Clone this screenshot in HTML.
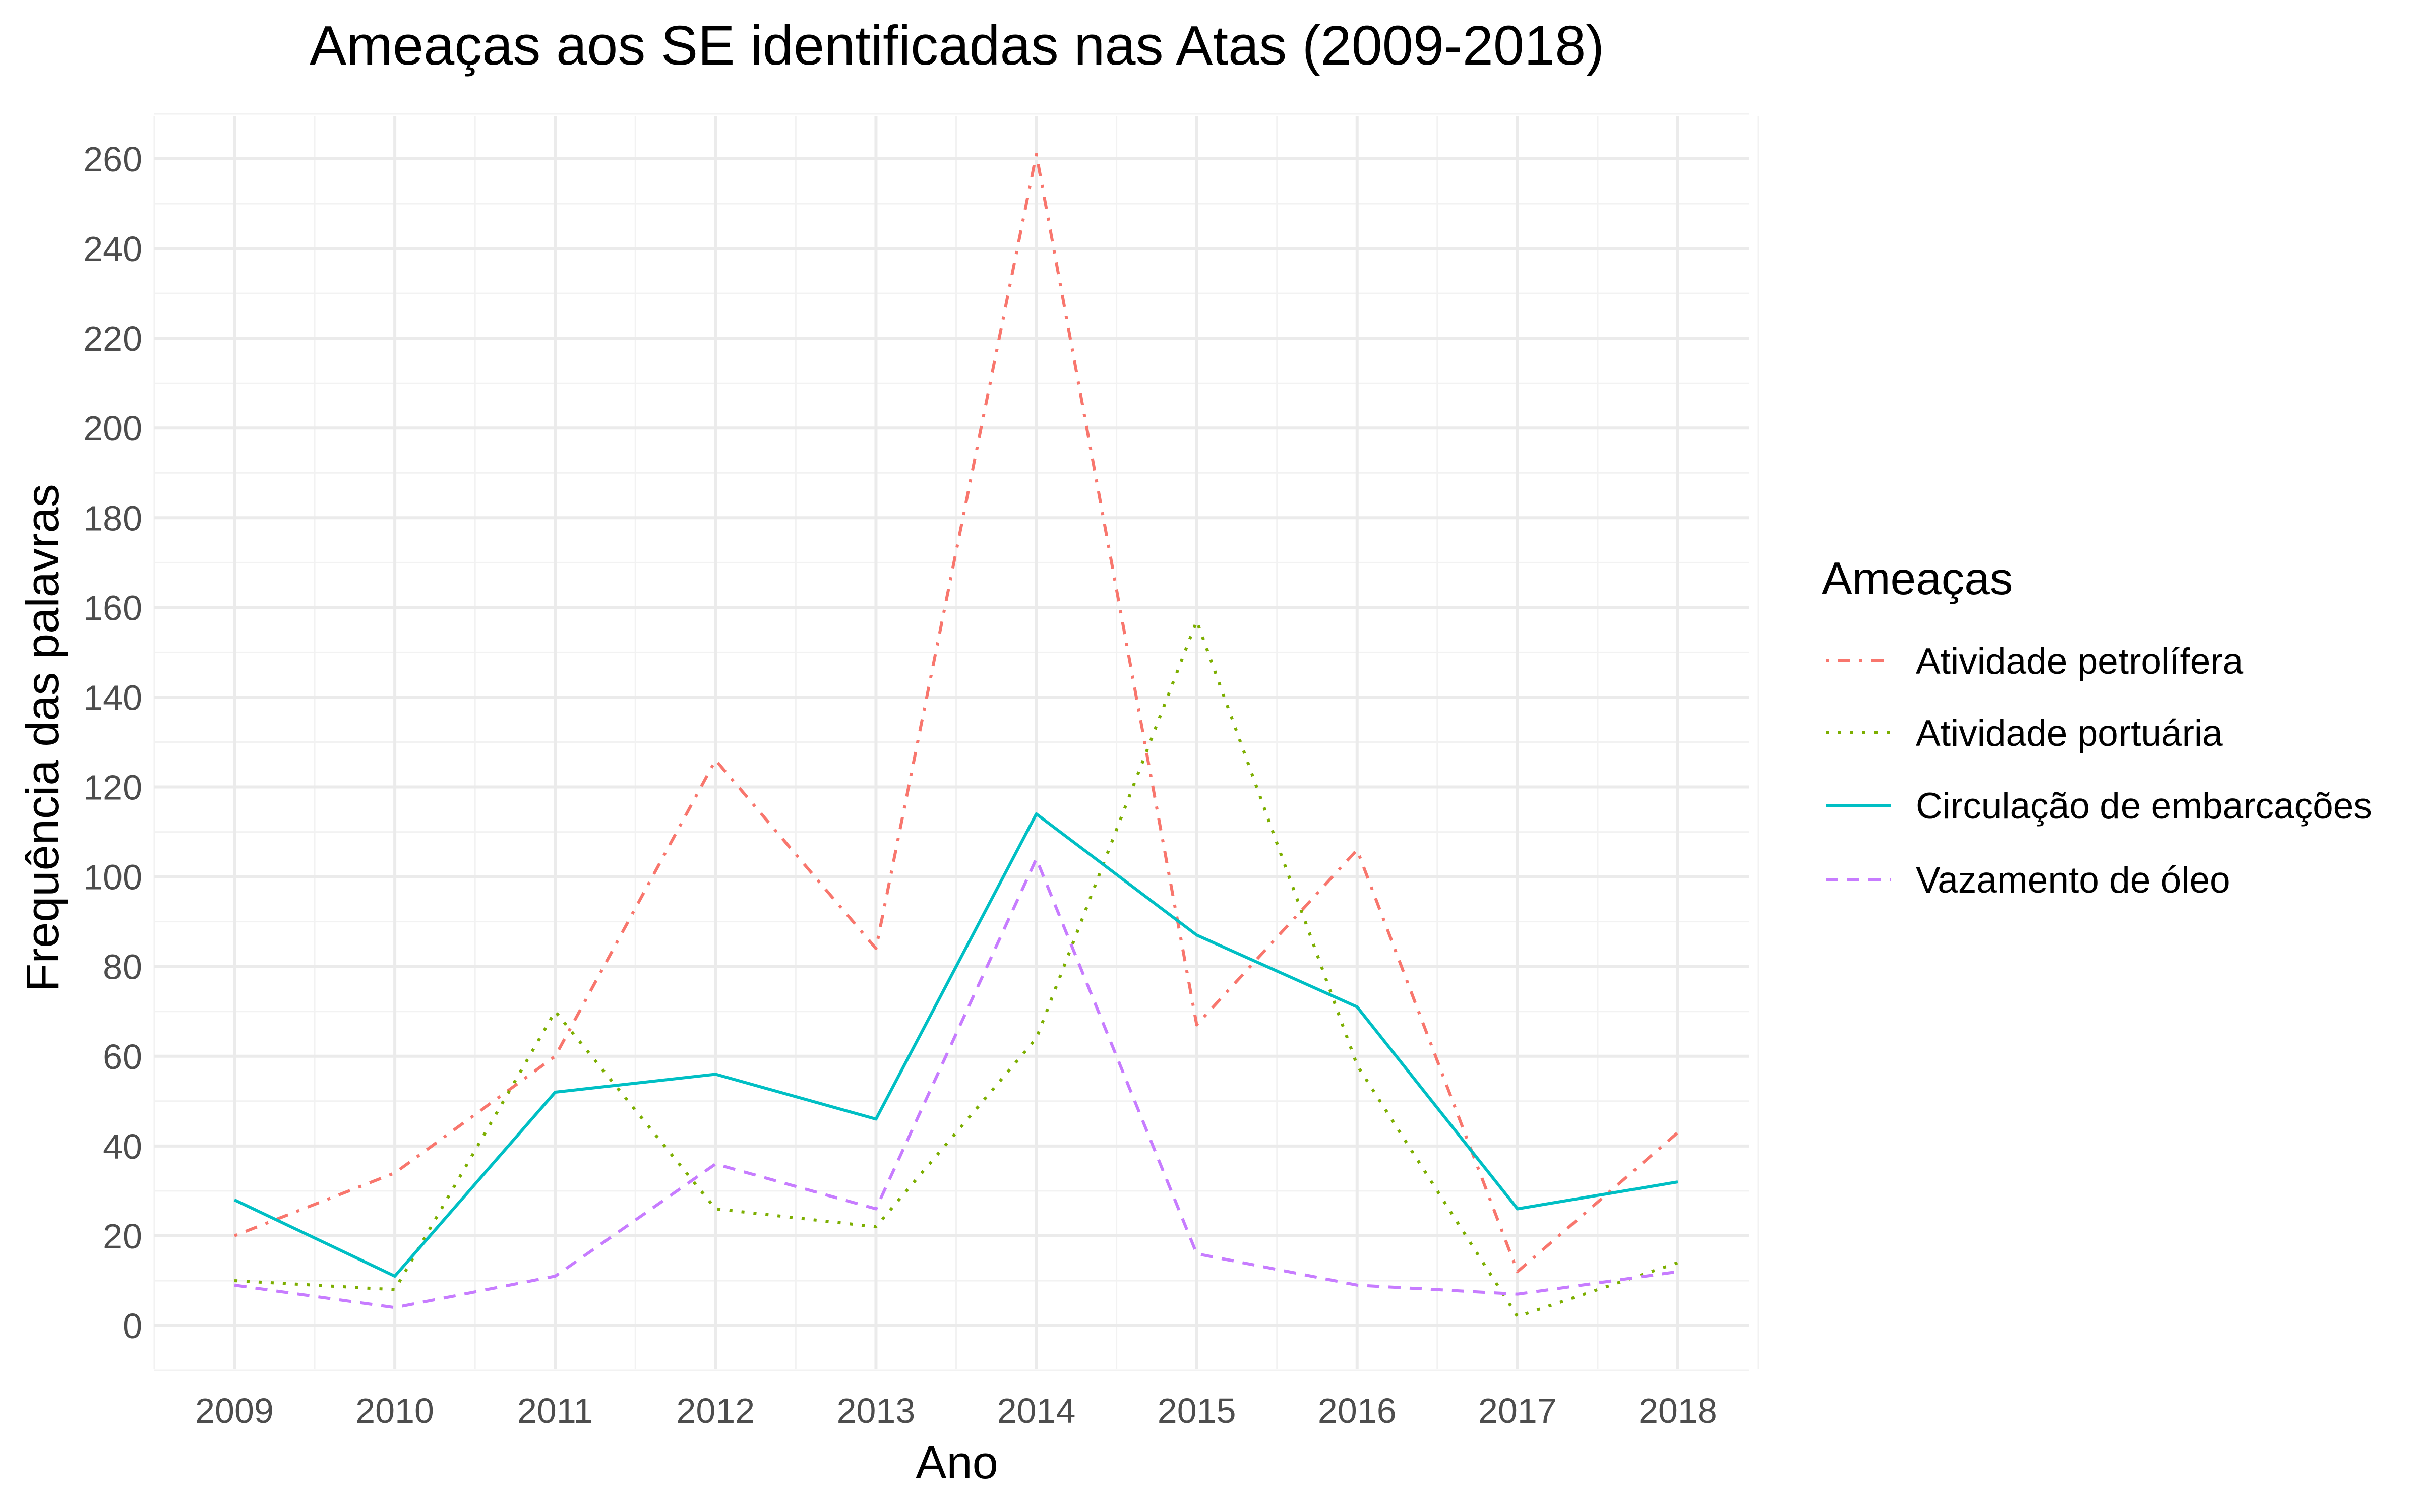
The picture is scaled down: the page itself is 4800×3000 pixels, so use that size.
<!DOCTYPE html>
<html><head><meta charset="utf-8">
<style>html,body{margin:0;padding:0;background:#fff;}svg{display:block;font-family:"Liberation Sans",Arial,sans-serif;}</style>
</head><body>
<svg id="chart" width="4800" height="3000" viewBox="0 0 4800 3000" xmlns="http://www.w3.org/2000/svg">
<rect width="4800" height="3000" fill="#fff"/>
<g id="grid"></g>
<g id="ticks"></g>
<g id="series"></g>
<text x="1898" y="128" font-size="110" text-anchor="middle" fill="#000">Ameaças aos SE identificadas nas Atas (2009-2018)</text>
<text x="1898" y="2933" font-size="92" text-anchor="middle" fill="#000">Ano</text>
<text transform="translate(116,1464) rotate(-90)" font-size="92" text-anchor="middle" fill="#000">Frequência das palavras</text>
<g id="legend">
<text x="3613" y="1179" font-size="91" fill="#000">Ameaças</text>
</g>
</svg>
<script>
const years = [2009,2010,2011,2012,2013,2014,2015,2016,2017,2018];
const yTicks = [0,20,40,60,80,100,120,140,160,180,200,220,240,260];
const seriesNames = ["Atividade petrolífera","Atividade portuária","Circulação de embarcações","Vazamento de óleo"];
const petrolifera = [20,34,60,126,84,261,67,106,12,43];
const portuaria = [10,8,70,26,22,64,157,58,2,14];
const circulacao = [28,11,52,56,46,114,87,71,26,32];
const vazamento = [9,4,11,36,26,104,16,9,7,12];

const NS="http://www.w3.org/2000/svg";
const X0=465,X1=3328,Y0=2630,Y260=315;
const PL=306,PR=3469,PT=230,PB=2716;
function xs(v){return X0+(v-2009)*(X1-X0)/9;}
function ys(v){return Y0-v*(Y0-Y260)/260;}
function mk(tag,attrs,parent){const e=document.createElementNS(NS,tag);for(const k in attrs)e.setAttribute(k,attrs[k]);parent.appendChild(e);return e;}
const grid=document.getElementById('grid'),ticks=document.getElementById('ticks'),ser=document.getElementById('series'),leg=document.getElementById('legend');
for(let v=-10;v<=270;v+=20){const l=mk('line',{x1:PL,x2:PR,y1:ys(v),y2:ys(v),stroke:'#f2f2f2','stroke-width':3},grid);

}
for(let v=2008.5;v<=2018.5;v+=1){const l=mk('line',{x1:xs(v),x2:xs(v),y1:PT,y2:PB,stroke:'#f2f2f2','stroke-width':3},grid);

}
yTicks.forEach(v=>{const l=mk('line',{x1:PL,x2:PR,y1:ys(v),y2:ys(v),stroke:'#ebebeb','stroke-width':6},grid);


const t=mk('text',{x:282,y:ys(v)+25,'font-size':70,'text-anchor':'end',fill:'#4d4d4d'},ticks);t.textContent=v;

});
years.forEach(v=>{const l=mk('line',{x1:xs(v),x2:xs(v),y1:PT,y2:PB,stroke:'#ebebeb','stroke-width':6},grid);


const t=mk('text',{x:xs(v),y:2823,'font-size':70,'text-anchor':'middle',fill:'#4d4d4d'},ticks);t.textContent=v;

});
const data=[petrolifera,portuaria,circulacao,vazamento];
const colors=['#F8766D','#7CAE00','#00BFC4','#C77CFF'];
const dashes=['6,18,24,18','6,18','none','24,18'];
const names=['series-petrolifera','series-portuaria','series-circulacao','series-vazamento'];
const legY=[1311,1454,1598,1745];
data.forEach((d,i)=>{const pts=d.map((v,j)=>xs(years[j])+','+ys(v)).join(' ');
const p=mk('polyline',{points:pts,fill:'none',stroke:colors[i],'stroke-width':6,'stroke-dasharray':dashes[i],'stroke-linejoin':'round'},ser);


const g=mk('g',{},leg);


mk('line',{x1:3622,x2:3751,y1:legY[i],y2:legY[i],stroke:colors[i],'stroke-width':6,'stroke-dasharray':dashes[i]},g);
const t=mk('text',{x:3800,y:legY[i]+26,'font-size':73,fill:'#000'},g);t.textContent=seriesNames[i];});
</script>
</body></html>
